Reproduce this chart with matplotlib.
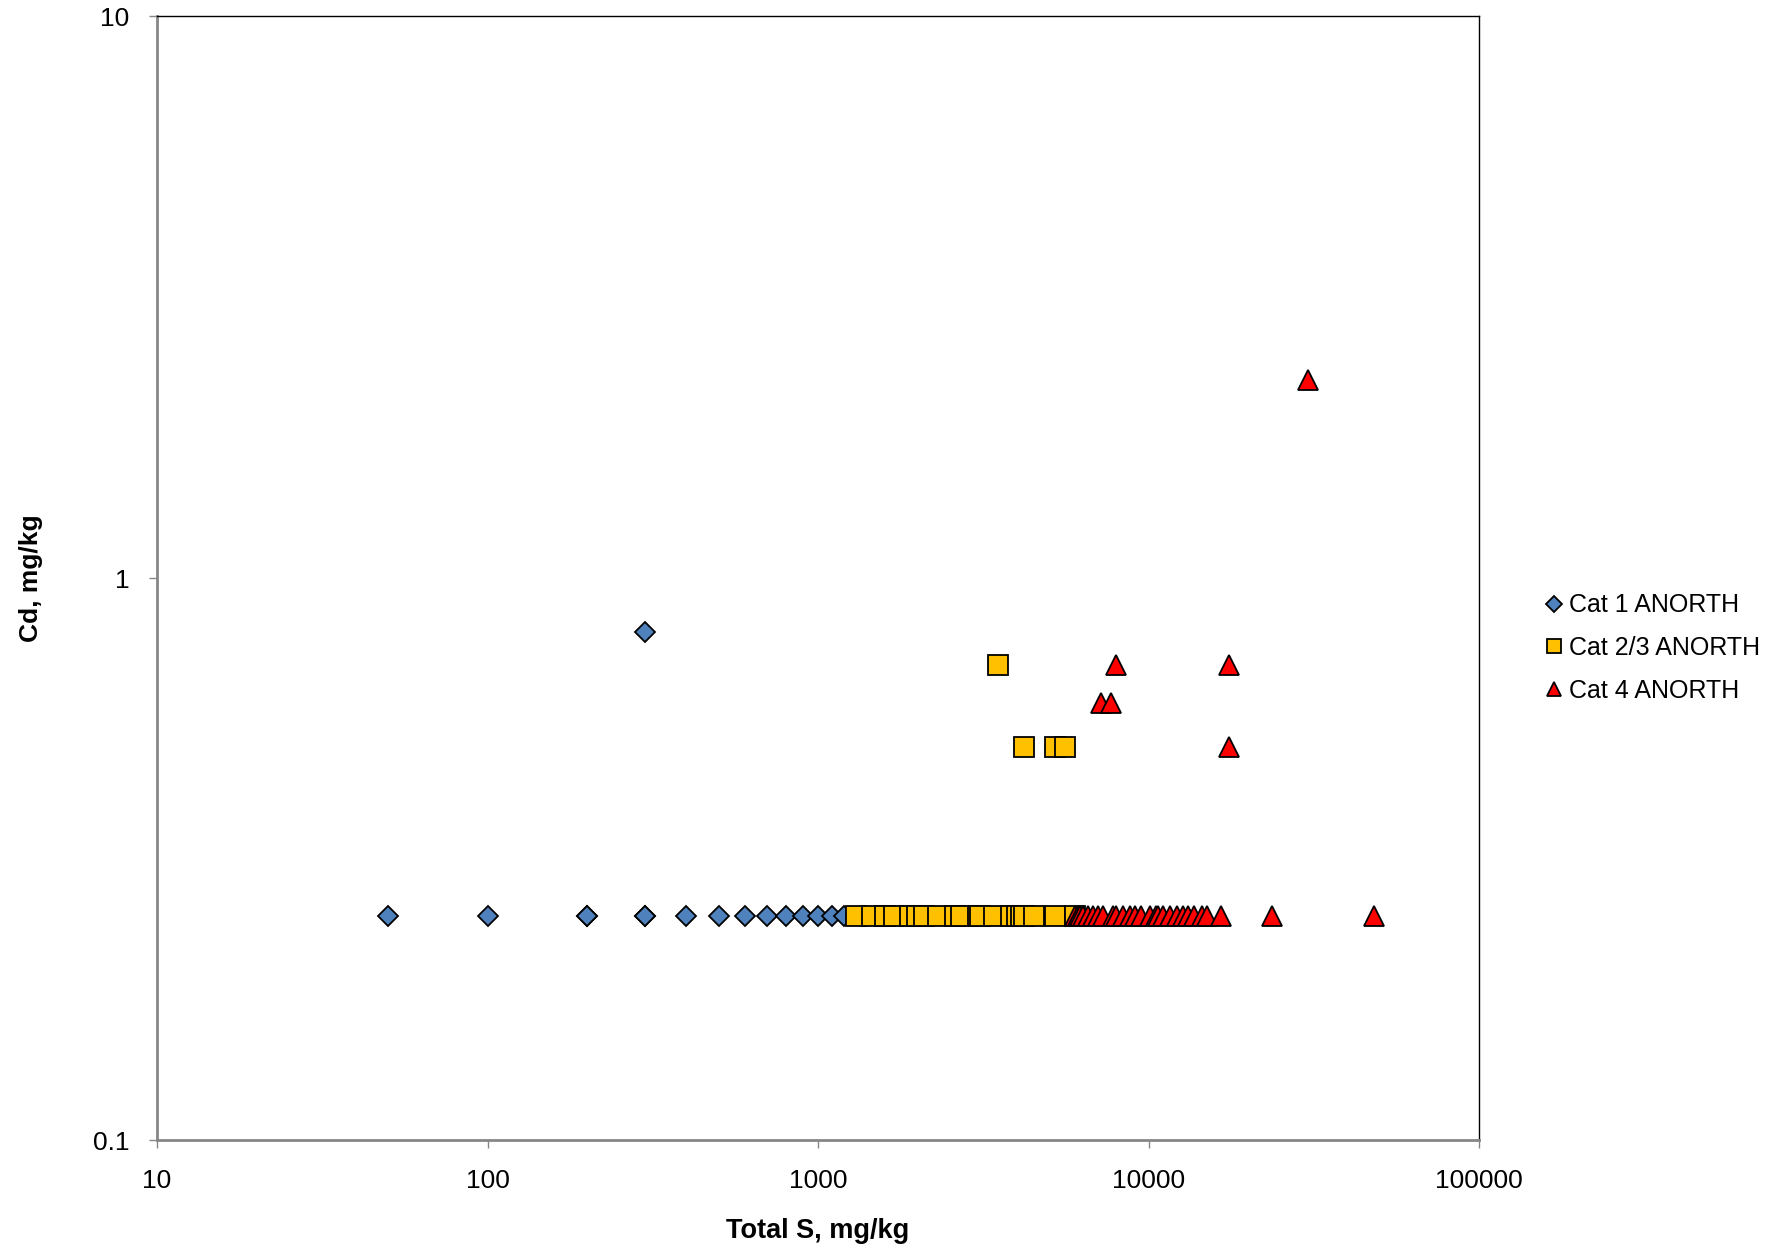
"""Scatter of Cd vs total S for ANORTH categories (log-log)."""

import numpy as np
import matplotlib
matplotlib.use("Agg")
import matplotlib.pyplot as plt
from matplotlib.ticker import FixedLocator, FuncFormatter, NullLocator

plt.rcParams['font.family'] = ['Liberation Sans', 'DejaVu Sans']

### Data
cat1_s = [50, 100, 200, 200, 300, 300, 400, 500, 600, 700, 800, 900, 1000,
          1100, 1200, 300]
cat1_cd = [0.25, 0.25, 0.25, 0.25, 0.25, 0.25, 0.25, 0.25, 0.25, 0.25, 0.25,
           0.25, 0.25, 0.25, 0.25, 0.8]

cat23_s = [1300, 1460, 1600, 1700, 1900, 2000, 2100, 2300, 2600, 2700, 3050,
           3100, 3400, 3850, 4000, 4100, 4200, 4500, 5200, 6000,
           3500, 4200, 5200, 5600]
cat23_cd = [0.25] * 20 + [0.7, 0.5, 0.5, 0.5]

cat4_s = [6000, 6100, 6200, 6350, 6570, 6800, 7050, 7300, 7800, 8000, 8400,
          8800, 9100, 9500, 10100, 10500, 10700, 11100, 11600, 12200, 12700,
          13200, 13700, 14500, 15000, 16600, 23600, 48000,
          8000, 17500, 7200, 7700, 17500, 30400]
cat4_cd = [0.25] * 28 + [0.7, 0.7, 0.6, 0.6, 0.5, 2.25]

series_labels = ["Cat 1 ANORTH", "Cat 2/3 ANORTH", "Cat 4 ANORTH"]
x_ticks = [10, 100, 1000, 10000, 100000]
y_ticks = [0.1, 1, 10]

fig = plt.figure(figsize=(17.78, 12.48), dpi=100)
ax = fig.add_axes([157/1778, 1 - 1140/1248, (1479-157)/1778, (1140-16)/1248])

ec = "k"
mew = 1.3
ax.plot(cat1_s, cat1_cd, "D", ms=10.5, mfc="#4F81BD", mec=ec, mew=mew,
        ls="none", label=series_labels[0], zorder=3)
ax.plot(cat23_s, cat23_cd, "s", ms=14, mfc="#FFC000", mec=ec, mew=mew,
        ls="none", label=series_labels[1], zorder=4)
ax.plot(cat4_s, cat4_cd, "^", ms=14, mfc="#FF0000", mec=ec, mew=mew,
        ls="none", label=series_labels[2], zorder=5)

ax.set_xscale("log")
ax.set_yscale("log")
ax.set_xlim(10, 100000)
ax.set_ylim(0.1, 10)

fmt = FuncFormatter(lambda v, p: f"{v:g}")
ax.xaxis.set_major_locator(FixedLocator(x_ticks))
ax.yaxis.set_major_locator(FixedLocator(y_ticks))
ax.xaxis.set_minor_locator(NullLocator())
ax.yaxis.set_minor_locator(NullLocator())
ax.xaxis.set_major_formatter(fmt)
ax.yaxis.set_major_formatter(fmt)
ax.tick_params(axis="x", direction="out", length=6, width=1, color="#868686",
               labelsize=19, pad=15)
ax.tick_params(axis="y", direction="out", length=6, width=1, color="#868686",
               labelsize=19, pad=14)

### Spines: gray axes, thin black plot-area border
for side in ["left", "bottom"]:
    ax.spines[side].set_color("#868686")
    ax.spines[side].set_linewidth(2)
for side in ["top", "right"]:
    ax.spines[side].set_color("k")
    ax.spines[side].set_linewidth(1)

ax.set_xlabel("Total S, mg/kg", fontsize=19.5, fontweight="bold", labelpad=18)
ax.set_ylabel("Cd, mg/kg", fontsize=19, fontweight="bold", labelpad=36)

ax.legend(loc="center left", bbox_to_anchor=(1545/1778, 1 - 648/1248),
          bbox_transform=fig.transFigure, frameon=False, fontsize=18,
          markerscale=0.75, handlelength=0.7, handletextpad=0.25,
          labelspacing=0.75, borderpad=0, borderaxespad=0, numpoints=1)

fig.savefig("out.png", dpi=100)
